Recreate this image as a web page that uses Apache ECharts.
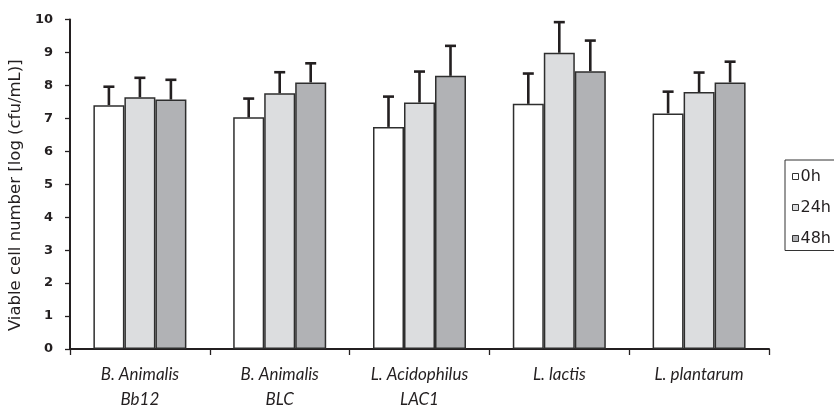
<!DOCTYPE html>
<html>
<head>
<meta charset="utf-8">
<script src="https://cdn.jsdelivr.net/npm/echarts@6/dist/echarts.min.js"></script>
<style>html,body{margin:0;padding:0;background:#fff}#c{width:834px;height:406px}</style>
</head>
<body>
<div id="c"></div>
<script>
var categories = ['B. Animalis\nBb12', 'B. Animalis\nBLC', 'L. Acidophilus\nLAC1', 'L. lactis', 'L. plantarum'];
var seriesNames = ['0h', '24h', '48h'];
var v0h  = [7.40, 7.03, 6.74, 7.44, 7.15];
var v24h = [7.64, 7.76, 7.48, 8.99, 7.80];
var v48h = [7.57, 8.09, 8.29, 8.43, 8.09];
var e0h  = [0.56, 0.57, 0.92, 0.92, 0.66];
var e24h = [0.59, 0.64, 0.94, 0.93, 0.59];
var e48h = [0.60, 0.58, 0.91, 0.93, 0.63];

var values = [v0h, v24h, v48h];
var errors = [e0h, e24h, e48h];
var colors = ['#ffffff', '#dcdddf', '#b1b2b5'];
var BAR_W = 31;
var INK = '#231f20';

var chart = echarts.init(document.getElementById('c'));
var series = [];
seriesNames.forEach(function (name, s) {
  series.push({
    name: name, type: 'bar', data: values[s], barWidth: BAR_W, barGap: '0%',
    itemStyle: { color: colors[s], borderColor: '#2e2e2e', borderWidth: 1.5 },
    emphasis: { disabled: true }, z: 2
  });
});
seriesNames.forEach(function (name, s) {
  var data = values[s].map(function (v, i) { return [i, v, v + errors[s][i]]; });
  series.push({
    type: 'custom', data: data, z: 3, silent: true,
    renderItem: function (params, api) {
      var i = api.value(0);
      var p0 = api.coord([i, api.value(1)]);
      var p1 = api.coord([i, api.value(2)]);
      var x = p0[0] + (s - 1) * BAR_W;
      var st = { stroke: INK, lineWidth: 2.6 };
      return { type: 'group', children: [
        { type: 'line', shape: { x1: x, y1: p0[1], x2: x, y2: p1[1] }, style: st },
        { type: 'line', shape: { x1: x - 5.5, y1: p1[1], x2: x + 5.5, y2: p1[1] }, style: st }
      ]};
    }
  });
});

chart.setOption({
  animation: false,
  grid: { left: 70, right: 65, top: 19.5, bottom: 57, outerBoundsMode: 'none', containLabel: false },
  legend: {
    data: seriesNames.map(function (n, s) {
      return { name: n, itemStyle: { color: colors[s], borderColor: '#333', borderWidth: 1 } };
    }),
    orient: 'vertical', left: 785, top: 160,
    padding: [8.5, 40, 4, 7], itemGap: 15, itemWidth: 6, itemHeight: 6, icon: 'rect',
    borderColor: '#333', borderWidth: 1,
    textStyle: { fontFamily: 'DejaVu Sans', fontSize: 16, color: INK, padding: [0, 0, 0, -3] },
    selectedMode: false
  },
  xAxis: {
    type: 'category', data: categories,
    axisLine: { lineStyle: { color: INK, width: 2 } },
    axisTick: { show: true, interval: 0, length: 6, lineStyle: { color: INK, width: 1.3 } },
    axisLabel: { interval: 0, margin: 13, fontFamily: 'Lato', fontStyle: 'italic', fontSize: 17, lineHeight: 25, color: INK }
  },
  yAxis: {
    type: 'value', min: 0, max: 10, interval: 1,
    name: 'Viable cell number [log (cfu/mL)]', nameLocation: 'middle', nameGap: 45,
    nameTextStyle: { fontFamily: 'DejaVu Sans', fontSize: 16.5, color: INK, padding: [0, 22, 0, 0] },
    splitLine: { show: false },
    axisLine: { show: true, lineStyle: { color: INK, width: 2 } },
    axisTick: { show: true, length: 5, lineStyle: { color: INK, width: 1.3 } },
    axisLabel: { margin: 17, fontFamily: 'DejaVu Sans', fontWeight: 'bold', fontSize: 13, color: INK }
  },
  series: series
});
</script>
</body>
</html>
